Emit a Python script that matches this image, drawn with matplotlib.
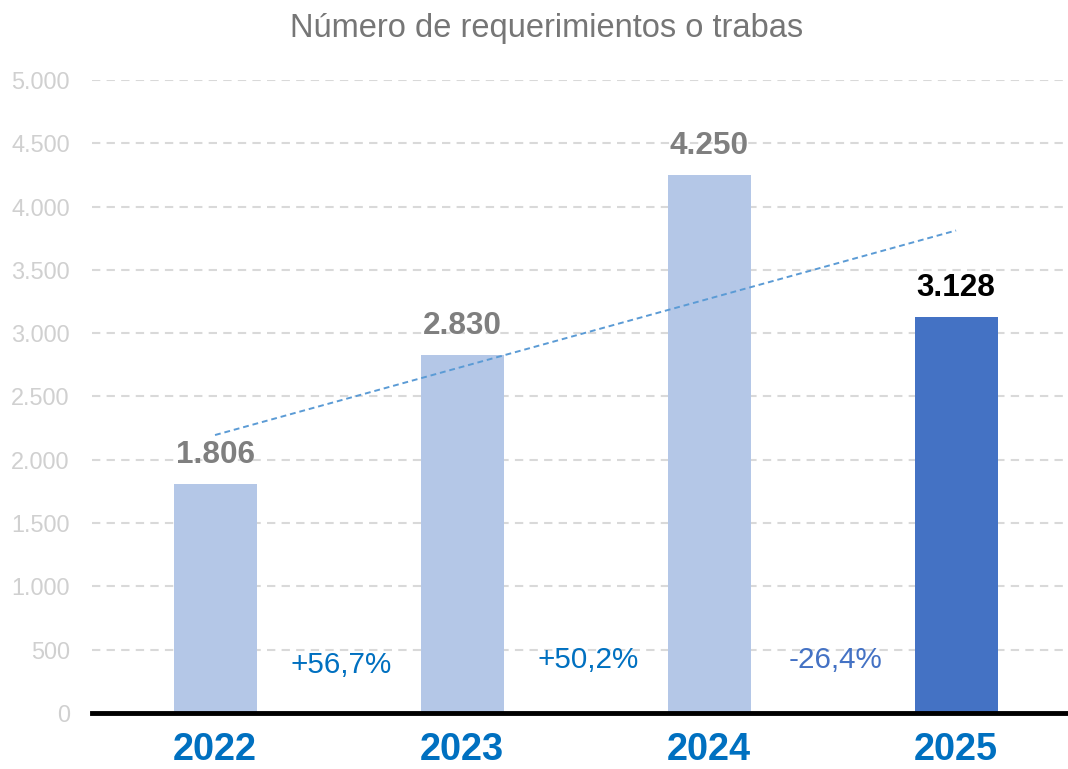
import numpy as np
import matplotlib.pyplot as plt

plt.rcParams['font.family'] = ['Liberation Sans', 'DejaVu Sans']

# datos
years = ['2022', '2023', '2024', '2025']
values = [1806, 2830, 4250, 3128]
value_labels = ['1.806', '2.830', '4.250', '3.128']
changes = ['+56,7%', '+50,2%', '-26,4%']
change_y = [378, 418, 418]

bar_colors = ['#b4c7e7', '#b4c7e7', '#b4c7e7', '#4472c4']
label_colors = ['#7f7f7f', '#7f7f7f', '#7f7f7f', '#000000']
change_colors = ['#0070c0', '#0070c0', '#4472c4']

fig = plt.figure(figsize=(10.68, 7.69), dpi=100)
ax = fig.add_axes([92 / 1068, 1 - 713 / 769, 976 / 1068, (713 - 80) / 769])

x = np.arange(len(years))
ax.bar(x, values, width=0.336, color=bar_colors, zorder=3)

# linea de tendencia (regresion lineal)
m, b = np.polyfit(x, values, 1)
ax.plot(x, m * x + b, color='#5b9bd5', linestyle=(0, (3, 2)), linewidth=1.4, zorder=4)

for xi, v, lab, c in zip(x, values, value_labels, label_colors):
    ax.annotate(lab, (xi, v), xytext=(0, 10), textcoords='offset points',
                ha='center', va='bottom', fontsize=22.7, fontweight='bold', color=c)

for i, (txt, yv, c) in enumerate(zip(changes, change_y, change_colors)):
    ax.text(i + 0.51, yv, txt, ha='center', va='center', fontsize=21.3, color=c, zorder=5)

ax.set_xlim(-0.498, 3.453)
ax.set_ylim(0, 5000)
ax.set_yticks(np.arange(0, 5001, 500))
ax.set_yticklabels(['0', '500', '1.000', '1.500', '2.000', '2.500', '3.000',
                    '3.500', '4.000', '4.500', '5.000'])
ax.set_xticks(x)
ax.set_xticklabels(years)

ax.grid(axis='y', color='#d9d9d9', linestyle=(0, (4, 3)), linewidth=1.5, zorder=0)
for s in ['top', 'right', 'left']:
    ax.spines[s].set_visible(False)
ax.spines['bottom'].set_color('black')
ax.spines['bottom'].set_linewidth(3.5)
ax.spines['bottom'].set_zorder(6)

ax.tick_params(axis='y', length=0, pad=16, labelsize=16.9, labelcolor='#d0d0d0')
ax.tick_params(axis='x', length=0, pad=14, labelsize=27.3, labelcolor='#0070c0')
for t in ax.get_xticklabels():
    t.set_fontweight('bold')

fig.text(547 / 1068, 1 - 28 / 769, 'Número de requerimientos o trabas',
         ha='center', va='center', fontsize=23.5, color='#767676')

fig.savefig('out.png', dpi=100)
